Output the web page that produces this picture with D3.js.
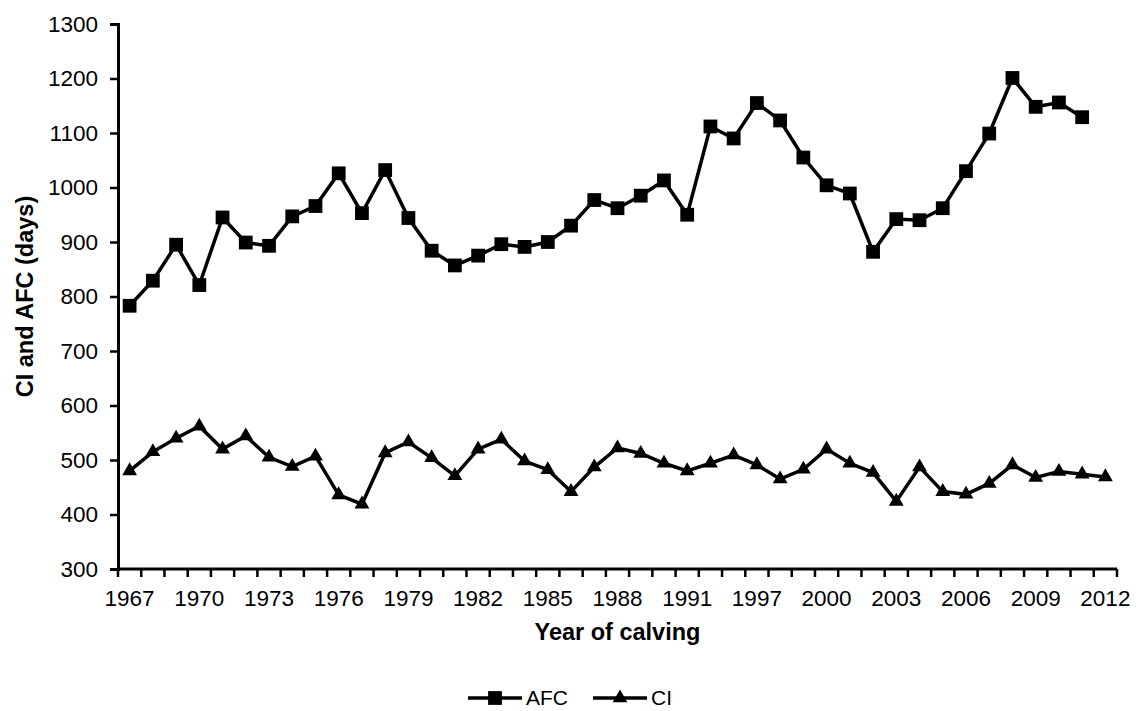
<!DOCTYPE html>
<html lang="en">
<head>
<meta charset="UTF-8">
<title>CI and AFC by year of calving</title>
<script src="https://cdn.jsdelivr.net/npm/d3@7"></script>
<style>
    body { margin: 0; background: #fff; }
    svg text { font-family: "Liberation Sans", Arial, sans-serif; fill: #000; }
</style>
</head>
<body>
<svg id="chart" width="1136" height="711"></svg>
<script>
// categories (years of calving); two grouped periods between 1991 and 1997
const years = ["1967","1968","1969","1970","1971","1972","1973","1974","1975","1976",
    "1977","1978","1979","1980","1981","1982","1983","1984","1985","1986","1987","1988",
    "1989","1990","1991","1993","1995","1997","1998","1999","2000","2001","2002","2003",
    "2004","2005","2006","2007","2008","2009","2010","2011","2012"];
const shownYears = ["1967","1970","1973","1976","1979","1982","1985","1988","1991",
    "1997","2000","2003","2006","2009","2012"];

// age at first calving (days), 1967-2011
const afc = [783, 829, 895, 821, 945, 899, 893, 947, 966, 1026, 953, 1032, 944, 884, 857,
    875, 896, 891, 900, 930, 977, 962, 985, 1013, 950, 1112, 1090, 1155, 1123, 1055, 1004,
    989, 882, 942, 940, 962, 1030, 1099, 1201, 1148, 1156, 1129];
// calving interval (days), 1967-2012
const ci = [480, 515, 540, 562, 520, 544, 505, 488, 507, 436, 419, 513, 533, 504, 471, 520,
    538, 498, 482, 442, 487, 522, 512, 494, 480, 494, 509, 491, 465, 483, 520, 494, 477, 424,
    487, 442, 437, 457, 491, 468, 479, 474, 469];

const yTicks = [300, 400, 500, 600, 700, 800, 900, 1000, 1100, 1200, 1300];

const svg = d3.select("#chart");
const plotL = 118, plotR = 1117, plotT = 24, plotB = 569;

let x = d3.scaleBand().domain(years).range([plotL, plotR]).padding(0);
let y = d3.scaleLinear().domain([300, 1300]).range([plotB, plotT]);
let cx = d => x(d) + x.bandwidth() / 2;

// y axis
let yAxis = svg.append("g")
    .attr("transform", `translate(${plotL},0)`)
    .call(d3.axisLeft(y).tickValues(yTicks).tickSize(8).tickPadding(12).tickFormat(d3.format("d")));
yAxis.select(".domain").attr("stroke", "#000").attr("stroke-width", 3);
yAxis.selectAll(".tick line").attr("stroke", "#000").attr("stroke-width", 2.5);
yAxis.selectAll("text").style("font-size", "22.5px");

// x axis: tick marks between categories, labels every third year
let xAxis = svg.append("g").attr("transform", `translate(0,${plotB})`);
xAxis.append("line")
    .attr("x1", plotL).attr("x2", plotR)
    .attr("stroke", "#000").attr("stroke-width", 3);
xAxis.selectAll("line.tk")
    .data(years.concat(["end"]))
    .join("line")
    .attr("class", "tk")
    .attr("x1", (d, i) => i < years.length ? x(d) : plotR)
    .attr("x2", (d, i) => i < years.length ? x(d) : plotR)
    .attr("y1", 0).attr("y2", 8)
    .attr("stroke", "#000").attr("stroke-width", 2.5);
xAxis.selectAll("text")
    .data(shownYears)
    .join("text")
    .attr("x", d => cx(d))
    .attr("y", 37)
    .attr("text-anchor", "middle")
    .style("font-size", "22.5px")
    .text(d => d);

// axis titles
svg.append("text")
    .attr("x", (plotL + plotR) / 2).attr("y", 640)
    .attr("text-anchor", "middle")
    .style("font-size", "23.5px").style("font-weight", "bold")
    .text("Year of calving");
svg.append("text")
    .attr("transform", `translate(33,${(plotT + plotB) / 2}) rotate(-90)`)
    .attr("text-anchor", "middle")
    .style("font-size", "23.5px").style("font-weight", "bold")
    .text("CI and AFC (days)");

// series
let line = d3.line().x(d => cx(d.year)).y(d => y(d.v));
let afcData = afc.map((v, i) => ({year: years[i], v: v}));
let ciData = ci.map((v, i) => ({year: years[i], v: v}));

let sq = d3.symbol().type(d3.symbolSquare).size(190);
let tri = d3.symbol().type(d3.symbolTriangle).size(95);

svg.append("path").datum(afcData).attr("d", line)
    .attr("fill", "none").attr("stroke", "#000").attr("stroke-width", 3.5);
svg.append("g").selectAll("path").data(afcData).join("path")
    .attr("d", sq)
    .attr("transform", d => `translate(${cx(d.year)},${y(d.v)})`)
    .attr("fill", "#000");

svg.append("path").datum(ciData).attr("d", line)
    .attr("fill", "none").attr("stroke", "#000").attr("stroke-width", 3.5);
svg.append("g").selectAll("path").data(ciData).join("path")
    .attr("d", tri)
    .attr("transform", d => `translate(${cx(d.year)},${y(d.v)})`)
    .attr("fill", "#000");

// legend
let legend = svg.append("g").attr("transform", "translate(0,698)");
let items = [{name: "AFC", sym: sq, x: 468}, {name: "CI", sym: tri, x: 593}];
items.forEach(it => {
    legend.append("line").attr("x1", it.x).attr("x2", it.x + 54)
        .attr("stroke", "#000").attr("stroke-width", 3.5);
    legend.append("path").attr("d", it.sym)
        .attr("transform", `translate(${it.x + 27},0)`).attr("fill", "#000");
    legend.append("text").attr("x", it.x + 58).attr("y", 7)
        .style("font-size", "21px").text(it.name);
});
</script>
</body>
</html>
